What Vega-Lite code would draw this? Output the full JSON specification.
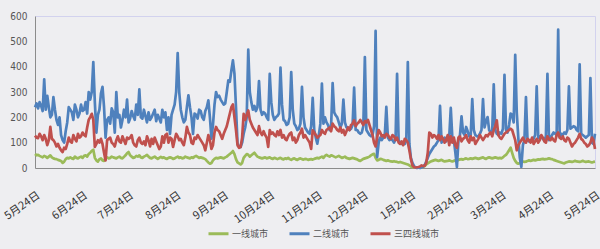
{
"$schema": "https://vega.github.io/schema/vega-lite/v6.json",
"autosize": {"type": "none"},
"width": 560,
"height": 152,
"padding": {"left": 35, "top": 16, "right": 5, "bottom": 81},
"background": "#eeeef1",
"config": {"view": {"stroke": "#d2d2ee", "strokeWidth": 1}, "font": "Liberation Sans"},
"data": {"values": [
{"d":"2013-05-24","a":55,"b":240,"c":128},
{"d":"2013-05-25","a":50,"b":255,"c":120},
{"d":"2013-05-26","a":52,"b":235,"c":118},
{"d":"2013-05-27","a":48,"b":260,"c":135},
{"d":"2013-05-28","a":45,"b":245,"c":125},
{"d":"2013-05-29","a":42,"b":225,"c":110},
{"d":"2013-05-30","a":48,"b":350,"c":130},
{"d":"2013-05-31","a":45,"b":230,"c":115},
{"d":"2013-06-01","a":40,"b":285,"c":90},
{"d":"2013-06-02","a":45,"b":240,"c":110},
{"d":"2013-06-03","a":50,"b":200,"c":162},
{"d":"2013-06-04","a":42,"b":210,"c":115},
{"d":"2013-06-05","a":38,"b":280,"c":110},
{"d":"2013-06-06","a":36,"b":230,"c":100},
{"d":"2013-06-07","a":35,"b":190,"c":85},
{"d":"2013-06-08","a":32,"b":170,"c":95},
{"d":"2013-06-09","a":30,"b":200,"c":80},
{"d":"2013-06-10","a":28,"b":130,"c":70},
{"d":"2013-06-11","a":20,"b":110,"c":63},
{"d":"2013-06-12","a":25,"b":100,"c":80},
{"d":"2013-06-13","a":35,"b":145,"c":75},
{"d":"2013-06-14","a":40,"b":180,"c":95},
{"d":"2013-06-15","a":38,"b":240,"c":120},
{"d":"2013-06-16","a":42,"b":230,"c":105},
{"d":"2013-06-17","a":38,"b":220,"c":100},
{"d":"2013-06-18","a":36,"b":190,"c":130},
{"d":"2013-06-19","a":45,"b":250,"c":115},
{"d":"2013-06-20","a":40,"b":230,"c":105},
{"d":"2013-06-21","a":38,"b":200,"c":135},
{"d":"2013-06-22","a":42,"b":215,"c":120},
{"d":"2013-06-23","a":45,"b":250,"c":125},
{"d":"2013-06-24","a":40,"b":225,"c":140},
{"d":"2013-06-25","a":48,"b":230,"c":130},
{"d":"2013-06-26","a":50,"b":260,"c":125},
{"d":"2013-06-27","a":45,"b":215,"c":160},
{"d":"2013-06-28","a":55,"b":300,"c":190},
{"d":"2013-06-29","a":60,"b":270,"c":201},
{"d":"2013-06-30","a":68,"b":300,"c":214},
{"d":"2013-07-01","a":72,"b":418,"c":190},
{"d":"2013-07-02","a":40,"b":260,"c":83},
{"d":"2013-07-03","a":30,"b":140,"c":95},
{"d":"2013-07-04","a":25,"b":210,"c":110},
{"d":"2013-07-05","a":35,"b":230,"c":100},
{"d":"2013-07-06","a":38,"b":295,"c":115},
{"d":"2013-07-07","a":30,"b":320,"c":95},
{"d":"2013-07-08","a":28,"b":240,"c":60},
{"d":"2013-07-09","a":40,"b":120,"c":30},
{"d":"2013-07-10","a":42,"b":190,"c":110},
{"d":"2013-07-11","a":38,"b":200,"c":115},
{"d":"2013-07-12","a":40,"b":175,"c":120},
{"d":"2013-07-13","a":45,"b":235,"c":100},
{"d":"2013-07-14","a":42,"b":220,"c":95},
{"d":"2013-07-15","a":40,"b":140,"c":85},
{"d":"2013-07-16","a":38,"b":300,"c":110},
{"d":"2013-07-17","a":42,"b":200,"c":125},
{"d":"2013-07-18","a":45,"b":210,"c":105},
{"d":"2013-07-19","a":40,"b":160,"c":100},
{"d":"2013-07-20","a":38,"b":190,"c":125},
{"d":"2013-07-21","a":44,"b":230,"c":110},
{"d":"2013-07-22","a":50,"b":200,"c":95},
{"d":"2013-07-23","a":58,"b":270,"c":120},
{"d":"2013-07-24","a":63,"b":180,"c":115},
{"d":"2013-07-25","a":50,"b":195,"c":120},
{"d":"2013-07-26","a":45,"b":225,"c":130},
{"d":"2013-07-27","a":40,"b":205,"c":100},
{"d":"2013-07-28","a":42,"b":190,"c":90},
{"d":"2013-07-29","a":48,"b":250,"c":85},
{"d":"2013-07-30","a":45,"b":210,"c":110},
{"d":"2013-07-31","a":50,"b":310,"c":120},
{"d":"2013-08-01","a":42,"b":200,"c":100},
{"d":"2013-08-02","a":40,"b":195,"c":95},
{"d":"2013-08-03","a":45,"b":230,"c":105},
{"d":"2013-08-04","a":48,"b":205,"c":90},
{"d":"2013-08-05","a":52,"b":180,"c":125},
{"d":"2013-08-06","a":45,"b":220,"c":110},
{"d":"2013-08-07","a":40,"b":190,"c":85},
{"d":"2013-08-08","a":38,"b":200,"c":115},
{"d":"2013-08-09","a":42,"b":215,"c":95},
{"d":"2013-08-10","a":45,"b":230,"c":120},
{"d":"2013-08-11","a":40,"b":185,"c":105},
{"d":"2013-08-12","a":36,"b":210,"c":90},
{"d":"2013-08-13","a":40,"b":195,"c":75},
{"d":"2013-08-14","a":44,"b":180,"c":85},
{"d":"2013-08-15","a":40,"b":230,"c":125},
{"d":"2013-08-16","a":42,"b":200,"c":100},
{"d":"2013-08-17","a":38,"b":220,"c":130},
{"d":"2013-08-18","a":36,"b":150,"c":135},
{"d":"2013-08-19","a":40,"b":200,"c":100},
{"d":"2013-08-20","a":42,"b":135,"c":120},
{"d":"2013-08-21","a":40,"b":210,"c":115},
{"d":"2013-08-22","a":36,"b":230,"c":83},
{"d":"2013-08-23","a":38,"b":250,"c":110},
{"d":"2013-08-24","a":42,"b":300,"c":135},
{"d":"2013-08-25","a":45,"b":454,"c":125},
{"d":"2013-08-26","a":40,"b":300,"c":110},
{"d":"2013-08-27","a":42,"b":230,"c":115},
{"d":"2013-08-28","a":38,"b":200,"c":100},
{"d":"2013-08-29","a":40,"b":180,"c":90},
{"d":"2013-08-30","a":45,"b":190,"c":120},
{"d":"2013-08-31","a":42,"b":240,"c":162},
{"d":"2013-09-01","a":40,"b":287,"c":140},
{"d":"2013-09-02","a":38,"b":240,"c":130},
{"d":"2013-09-03","a":42,"b":200,"c":100},
{"d":"2013-09-04","a":40,"b":135,"c":95},
{"d":"2013-09-05","a":45,"b":215,"c":120},
{"d":"2013-09-06","a":48,"b":210,"c":115},
{"d":"2013-09-07","a":44,"b":195,"c":130},
{"d":"2013-09-08","a":40,"b":230,"c":120},
{"d":"2013-09-09","a":42,"b":225,"c":110},
{"d":"2013-09-10","a":40,"b":200,"c":100},
{"d":"2013-09-11","a":38,"b":190,"c":90},
{"d":"2013-09-12","a":35,"b":225,"c":70},
{"d":"2013-09-13","a":28,"b":240,"c":100},
{"d":"2013-09-14","a":22,"b":267,"c":130},
{"d":"2013-09-15","a":17,"b":200,"c":110},
{"d":"2013-09-16","a":20,"b":116,"c":75},
{"d":"2013-09-17","a":30,"b":170,"c":90},
{"d":"2013-09-18","a":36,"b":250,"c":140},
{"d":"2013-09-19","a":40,"b":300,"c":162},
{"d":"2013-09-20","a":38,"b":280,"c":150},
{"d":"2013-09-21","a":40,"b":285,"c":145},
{"d":"2013-09-22","a":42,"b":270,"c":130},
{"d":"2013-09-23","a":40,"b":260,"c":115},
{"d":"2013-09-24","a":38,"b":250,"c":135},
{"d":"2013-09-25","a":42,"b":255,"c":150},
{"d":"2013-09-26","a":45,"b":300,"c":165},
{"d":"2013-09-27","a":50,"b":346,"c":190},
{"d":"2013-09-28","a":55,"b":340,"c":215},
{"d":"2013-09-29","a":60,"b":385,"c":240},
{"d":"2013-09-30","a":67,"b":425,"c":251},
{"d":"2013-10-01","a":55,"b":372,"c":200},
{"d":"2013-10-02","a":35,"b":240,"c":150},
{"d":"2013-10-03","a":22,"b":96,"c":90},
{"d":"2013-10-04","a":18,"b":85,"c":80},
{"d":"2013-10-05","a":14,"b":83,"c":83},
{"d":"2013-10-06","a":20,"b":100,"c":120},
{"d":"2013-10-07","a":40,"b":135,"c":214},
{"d":"2013-10-08","a":48,"b":160,"c":190},
{"d":"2013-10-09","a":55,"b":200,"c":210},
{"d":"2013-10-10","a":52,"b":467,"c":227},
{"d":"2013-10-11","a":45,"b":300,"c":190},
{"d":"2013-10-12","a":50,"b":260,"c":175},
{"d":"2013-10-13","a":55,"b":230,"c":160},
{"d":"2013-10-14","a":60,"b":245,"c":150},
{"d":"2013-10-15","a":52,"b":225,"c":140},
{"d":"2013-10-16","a":45,"b":240,"c":130},
{"d":"2013-10-17","a":42,"b":343,"c":165},
{"d":"2013-10-18","a":40,"b":230,"c":140},
{"d":"2013-10-19","a":38,"b":210,"c":130},
{"d":"2013-10-20","a":40,"b":220,"c":145},
{"d":"2013-10-21","a":42,"b":215,"c":130},
{"d":"2013-10-22","a":38,"b":200,"c":120},
{"d":"2013-10-23","a":40,"b":190,"c":83},
{"d":"2013-10-24","a":42,"b":372,"c":150},
{"d":"2013-10-25","a":38,"b":260,"c":135},
{"d":"2013-10-26","a":36,"b":210,"c":140},
{"d":"2013-10-27","a":40,"b":190,"c":130},
{"d":"2013-10-28","a":38,"b":200,"c":125},
{"d":"2013-10-29","a":35,"b":205,"c":145},
{"d":"2013-10-30","a":38,"b":215,"c":130},
{"d":"2013-10-31","a":40,"b":396,"c":150},
{"d":"2013-11-01","a":36,"b":250,"c":120},
{"d":"2013-11-02","a":34,"b":190,"c":130},
{"d":"2013-11-03","a":38,"b":185,"c":115},
{"d":"2013-11-04","a":36,"b":170,"c":110},
{"d":"2013-11-05","a":40,"b":175,"c":125},
{"d":"2013-11-06","a":35,"b":200,"c":135},
{"d":"2013-11-07","a":32,"b":379,"c":140},
{"d":"2013-11-08","a":36,"b":230,"c":110},
{"d":"2013-11-09","a":38,"b":175,"c":120},
{"d":"2013-11-10","a":34,"b":165,"c":100},
{"d":"2013-11-11","a":32,"b":150,"c":110},
{"d":"2013-11-12","a":36,"b":155,"c":130},
{"d":"2013-11-13","a":38,"b":175,"c":140},
{"d":"2013-11-14","a":35,"b":320,"c":155},
{"d":"2013-11-15","a":33,"b":200,"c":120},
{"d":"2013-11-16","a":36,"b":160,"c":130},
{"d":"2013-11-17","a":35,"b":150,"c":120},
{"d":"2013-11-18","a":32,"b":140,"c":110},
{"d":"2013-11-19","a":34,"b":135,"c":100},
{"d":"2013-11-20","a":35,"b":165,"c":75},
{"d":"2013-11-21","a":33,"b":277,"c":149},
{"d":"2013-11-22","a":36,"b":150,"c":140},
{"d":"2013-11-23","a":38,"b":120,"c":130},
{"d":"2013-11-24","a":40,"b":96,"c":120},
{"d":"2013-11-25","a":38,"b":130,"c":125},
{"d":"2013-11-26","a":42,"b":175,"c":130},
{"d":"2013-11-27","a":45,"b":333,"c":150},
{"d":"2013-11-28","a":40,"b":175,"c":140},
{"d":"2013-11-29","a":48,"b":200,"c":135},
{"d":"2013-11-30","a":52,"b":180,"c":150},
{"d":"2013-12-01","a":48,"b":170,"c":155},
{"d":"2013-12-02","a":45,"b":150,"c":160},
{"d":"2013-12-03","a":50,"b":165,"c":145},
{"d":"2013-12-04","a":48,"b":335,"c":175},
{"d":"2013-12-05","a":45,"b":220,"c":165},
{"d":"2013-12-06","a":42,"b":208,"c":160},
{"d":"2013-12-07","a":45,"b":200,"c":150},
{"d":"2013-12-08","a":48,"b":180,"c":145},
{"d":"2013-12-09","a":44,"b":160,"c":160},
{"d":"2013-12-10","a":40,"b":175,"c":140},
{"d":"2013-12-11","a":42,"b":270,"c":150},
{"d":"2013-12-12","a":45,"b":180,"c":130},
{"d":"2013-12-13","a":40,"b":160,"c":145},
{"d":"2013-12-14","a":38,"b":160,"c":160},
{"d":"2013-12-15","a":36,"b":150,"c":150},
{"d":"2013-12-16","a":38,"b":155,"c":170},
{"d":"2013-12-17","a":40,"b":170,"c":175},
{"d":"2013-12-18","a":38,"b":317,"c":188},
{"d":"2013-12-19","a":36,"b":150,"c":165},
{"d":"2013-12-20","a":34,"b":150,"c":175},
{"d":"2013-12-21","a":30,"b":140,"c":180},
{"d":"2013-12-22","a":28,"b":135,"c":190},
{"d":"2013-12-23","a":32,"b":140,"c":180},
{"d":"2013-12-24","a":36,"b":165,"c":170},
{"d":"2013-12-25","a":38,"b":438,"c":185},
{"d":"2013-12-26","a":40,"b":150,"c":180},
{"d":"2013-12-27","a":42,"b":140,"c":190},
{"d":"2013-12-28","a":45,"b":130,"c":170},
{"d":"2013-12-29","a":50,"b":125,"c":150},
{"d":"2013-12-30","a":54,"b":130,"c":130},
{"d":"2013-12-31","a":56,"b":165,"c":100},
{"d":"2014-01-01","a":40,"b":541,"c":85},
{"d":"2014-01-02","a":30,"b":43,"c":120},
{"d":"2014-01-03","a":32,"b":100,"c":150},
{"d":"2014-01-04","a":36,"b":120,"c":140},
{"d":"2014-01-05","a":35,"b":110,"c":125},
{"d":"2014-01-06","a":32,"b":120,"c":130},
{"d":"2014-01-07","a":30,"b":130,"c":120},
{"d":"2014-01-08","a":28,"b":241,"c":135},
{"d":"2014-01-09","a":30,"b":120,"c":130},
{"d":"2014-01-10","a":28,"b":110,"c":120},
{"d":"2014-01-11","a":26,"b":115,"c":115},
{"d":"2014-01-12","a":25,"b":110,"c":130},
{"d":"2014-01-13","a":27,"b":100,"c":125},
{"d":"2014-01-14","a":25,"b":115,"c":110},
{"d":"2014-01-15","a":24,"b":372,"c":120},
{"d":"2014-01-16","a":22,"b":110,"c":100},
{"d":"2014-01-17","a":24,"b":100,"c":95},
{"d":"2014-01-18","a":22,"b":95,"c":105},
{"d":"2014-01-19","a":20,"b":100,"c":90},
{"d":"2014-01-20","a":18,"b":95,"c":115},
{"d":"2014-01-21","a":16,"b":110,"c":110},
{"d":"2014-01-22","a":14,"b":418,"c":100},
{"d":"2014-01-23","a":10,"b":96,"c":70},
{"d":"2014-01-24","a":6,"b":40,"c":35},
{"d":"2014-01-25","a":3,"b":20,"c":10},
{"d":"2014-01-26","a":2,"b":8,"c":3},
{"d":"2014-01-27","a":1,"b":3,"c":2},
{"d":"2014-01-28","a":2,"b":0,"c":3},
{"d":"2014-01-29","a":1,"b":2,"c":4},
{"d":"2014-01-30","a":2,"b":0,"c":6},
{"d":"2014-01-31","a":3,"b":3,"c":10},
{"d":"2014-02-01","a":5,"b":5,"c":8},
{"d":"2014-02-02","a":8,"b":12,"c":8},
{"d":"2014-02-03","a":14,"b":25,"c":20},
{"d":"2014-02-04","a":18,"b":40,"c":60},
{"d":"2014-02-05","a":22,"b":55,"c":140},
{"d":"2014-02-06","a":26,"b":65,"c":135},
{"d":"2014-02-07","a":28,"b":75,"c":120},
{"d":"2014-02-08","a":30,"b":85,"c":130},
{"d":"2014-02-09","a":32,"b":90,"c":125},
{"d":"2014-02-10","a":30,"b":100,"c":115},
{"d":"2014-02-11","a":28,"b":110,"c":130},
{"d":"2014-02-12","a":30,"b":245,"c":110},
{"d":"2014-02-13","a":32,"b":100,"c":125},
{"d":"2014-02-14","a":28,"b":110,"c":115},
{"d":"2014-02-15","a":26,"b":120,"c":100},
{"d":"2014-02-16","a":27,"b":105,"c":110},
{"d":"2014-02-17","a":28,"b":115,"c":130},
{"d":"2014-02-18","a":30,"b":125,"c":90},
{"d":"2014-02-19","a":28,"b":237,"c":125},
{"d":"2014-02-20","a":26,"b":120,"c":100},
{"d":"2014-02-21","a":28,"b":110,"c":120},
{"d":"2014-02-22","a":30,"b":60,"c":90},
{"d":"2014-02-23","a":28,"b":4,"c":80},
{"d":"2014-02-24","a":32,"b":110,"c":120},
{"d":"2014-02-25","a":34,"b":130,"c":125},
{"d":"2014-02-26","a":35,"b":204,"c":105},
{"d":"2014-02-27","a":33,"b":140,"c":115},
{"d":"2014-02-28","a":36,"b":130,"c":120},
{"d":"2014-03-01","a":38,"b":162,"c":130},
{"d":"2014-03-02","a":35,"b":145,"c":110},
{"d":"2014-03-03","a":36,"b":125,"c":100},
{"d":"2014-03-04","a":38,"b":130,"c":125},
{"d":"2014-03-05","a":36,"b":272,"c":110},
{"d":"2014-03-06","a":38,"b":150,"c":120},
{"d":"2014-03-07","a":40,"b":130,"c":95},
{"d":"2014-03-08","a":38,"b":125,"c":105},
{"d":"2014-03-09","a":36,"b":125,"c":115},
{"d":"2014-03-10","a":38,"b":135,"c":130},
{"d":"2014-03-11","a":40,"b":150,"c":120},
{"d":"2014-03-12","a":42,"b":272,"c":110},
{"d":"2014-03-13","a":38,"b":160,"c":120},
{"d":"2014-03-14","a":36,"b":185,"c":130},
{"d":"2014-03-15","a":40,"b":201,"c":125},
{"d":"2014-03-16","a":42,"b":150,"c":135},
{"d":"2014-03-17","a":40,"b":140,"c":140},
{"d":"2014-03-18","a":38,"b":145,"c":125},
{"d":"2014-03-19","a":40,"b":330,"c":150},
{"d":"2014-03-20","a":42,"b":150,"c":165},
{"d":"2014-03-21","a":40,"b":135,"c":188},
{"d":"2014-03-22","a":38,"b":130,"c":130},
{"d":"2014-03-23","a":40,"b":140,"c":120},
{"d":"2014-03-24","a":38,"b":135,"c":115},
{"d":"2014-03-25","a":42,"b":155,"c":125},
{"d":"2014-03-26","a":48,"b":368,"c":135},
{"d":"2014-03-27","a":52,"b":150,"c":140},
{"d":"2014-03-28","a":60,"b":140,"c":145},
{"d":"2014-03-29","a":70,"b":170,"c":150},
{"d":"2014-03-30","a":80,"b":215,"c":155},
{"d":"2014-03-31","a":60,"b":210,"c":150},
{"d":"2014-04-01","a":40,"b":180,"c":130},
{"d":"2014-04-02","a":28,"b":447,"c":110},
{"d":"2014-04-03","a":20,"b":220,"c":70},
{"d":"2014-04-04","a":17,"b":120,"c":90},
{"d":"2014-04-05","a":20,"b":40,"c":100},
{"d":"2014-04-06","a":24,"b":4,"c":110},
{"d":"2014-04-07","a":26,"b":90,"c":120},
{"d":"2014-04-08","a":24,"b":110,"c":105},
{"d":"2014-04-09","a":25,"b":280,"c":100},
{"d":"2014-04-10","a":28,"b":110,"c":115},
{"d":"2014-04-11","a":30,"b":105,"c":110},
{"d":"2014-04-12","a":28,"b":110,"c":100},
{"d":"2014-04-13","a":30,"b":110,"c":120},
{"d":"2014-04-14","a":32,"b":115,"c":95},
{"d":"2014-04-15","a":30,"b":130,"c":105},
{"d":"2014-04-16","a":32,"b":322,"c":115},
{"d":"2014-04-17","a":34,"b":120,"c":100},
{"d":"2014-04-18","a":33,"b":125,"c":110},
{"d":"2014-04-19","a":35,"b":125,"c":130},
{"d":"2014-04-20","a":36,"b":115,"c":120},
{"d":"2014-04-21","a":34,"b":110,"c":105},
{"d":"2014-04-22","a":35,"b":125,"c":100},
{"d":"2014-04-23","a":36,"b":372,"c":125},
{"d":"2014-04-24","a":38,"b":110,"c":115},
{"d":"2014-04-25","a":36,"b":120,"c":110},
{"d":"2014-04-26","a":35,"b":130,"c":120},
{"d":"2014-04-27","a":32,"b":140,"c":110},
{"d":"2014-04-28","a":30,"b":135,"c":105},
{"d":"2014-04-29","a":28,"b":130,"c":130},
{"d":"2014-04-30","a":26,"b":546,"c":140},
{"d":"2014-05-01","a":24,"b":120,"c":120},
{"d":"2014-05-02","a":22,"b":135,"c":115},
{"d":"2014-05-03","a":20,"b":130,"c":125},
{"d":"2014-05-04","a":18,"b":140,"c":110},
{"d":"2014-05-05","a":22,"b":135,"c":105},
{"d":"2014-05-06","a":24,"b":150,"c":120},
{"d":"2014-05-07","a":26,"b":322,"c":115},
{"d":"2014-05-08","a":25,"b":155,"c":100},
{"d":"2014-05-09","a":24,"b":160,"c":85},
{"d":"2014-05-10","a":26,"b":165,"c":95},
{"d":"2014-05-11","a":28,"b":162,"c":100},
{"d":"2014-05-12","a":26,"b":150,"c":110},
{"d":"2014-05-13","a":25,"b":145,"c":120},
{"d":"2014-05-14","a":24,"b":409,"c":135},
{"d":"2014-05-15","a":26,"b":135,"c":115},
{"d":"2014-05-16","a":28,"b":130,"c":110},
{"d":"2014-05-17","a":26,"b":125,"c":100},
{"d":"2014-05-18","a":24,"b":120,"c":95},
{"d":"2014-05-19","a":25,"b":125,"c":85},
{"d":"2014-05-20","a":26,"b":130,"c":90},
{"d":"2014-05-21","a":24,"b":355,"c":100},
{"d":"2014-05-22","a":22,"b":100,"c":120},
{"d":"2014-05-23","a":24,"b":95,"c":110},
{"d":"2014-05-24","a":25,"b":135,"c":75}
]},
"transform": [{"fold": ["a", "b", "c"], "as": ["s", "v"]}],
"mark": {"type": "line", "strokeWidth": 2.7, "strokeJoin": "round"},
"encoding": {
  "x": {
    "field": "d", "type": "temporal",
    "scale": {"type": "utc", "domain": [{"year": 2013, "month": 5, "date": 24, "utc": true}, {"year": 2014, "month": 5, "date": 24, "utc": true}]},
    "axis": {
      "title": null, "grid": false, "ticks": false,
      "domainColor": "#8c8c8c", "domainWidth": 1,
      "values": [
        {"year": 2013, "month": 5, "date": 24, "utc": true},
        {"year": 2013, "month": 6, "date": 24, "utc": true},
        {"year": 2013, "month": 7, "date": 24, "utc": true},
        {"year": 2013, "month": 8, "date": 24, "utc": true},
        {"year": 2013, "month": 9, "date": 24, "utc": true},
        {"year": 2013, "month": 10, "date": 24, "utc": true},
        {"year": 2013, "month": 11, "date": 24, "utc": true},
        {"year": 2013, "month": 12, "date": 24, "utc": true},
        {"year": 2014, "month": 1, "date": 24, "utc": true},
        {"year": 2014, "month": 2, "date": 24, "utc": true},
        {"year": 2014, "month": 3, "date": 24, "utc": true},
        {"year": 2014, "month": 4, "date": 24, "utc": true},
        {"year": 2014, "month": 5, "date": 24, "utc": true}
      ],
      "labelExpr": "utcFormat(datum.value, '%-m月%-d日')",
      "labelAngle": -35, "labelAlign": "right", "labelBaseline": "top",
      "labelPadding": 21, "labelDx": -5, "labelFontSize": 11, "labelColor": "#333333",
      "labelFont": "Noto Sans CJK SC", "labelOverlap": false, "labelBound": false, "labelFlush": false
    }
  },
  "y": {
    "field": "v", "type": "quantitative",
    "scale": {"domain": [0, 600]},
    "axis": {
      "title": null, "grid": false, "ticks": false,
      "values": [0, 100, 200, 300, 400, 500, 600],
      "domainColor": "#8c8c8c", "labelPadding": 8,
      "labelFontSize": 10, "labelColor": "#555555",
      "labelFont": "Liberation Sans Narrow, DejaVu Sans Condensed, sans-serif"
    }
  },
  "color": {
    "field": "s", "type": "nominal",
    "scale": {"domain": ["a", "b", "c"], "range": ["#9bbb59", "#4f81bd", "#c0504d"]},
    "legend": {
      "title": null, "orient": "none", "direction": "horizontal",
      "legendX": 172, "legendY": 206,
      "symbolType": "stroke", "symbolSize": 400, "symbolStrokeWidth": 3,
      "labelExpr": "datum.value == 'a' ? '一线城市' : datum.value == 'b' ? '二线城市' : '三四线城市'",
      "labelFont": "Noto Sans CJK SC", "labelFontSize": 9, "labelColor": "#555555",
      "labelOffset": 2, "columnPadding": 14
    }
  }
}
}
